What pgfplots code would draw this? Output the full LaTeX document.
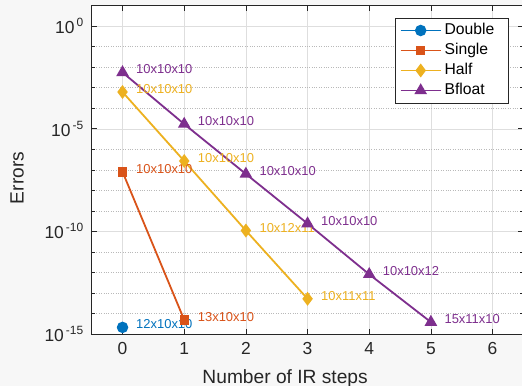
\documentclass[border=0pt]{standalone}
\usepackage{pgfplots}
\pgfplotsset{compat=1.18}
\usepackage{fontspec}
\setmainfont{Liberation Sans}
\definecolor{c1}{rgb}{0,0.447,0.741}
\definecolor{c2}{rgb}{0.85,0.325,0.098}
\definecolor{c3}{rgb}{0.929,0.694,0.125}
\definecolor{c4}{rgb}{0.494,0.184,0.556}
\definecolor{axc}{rgb}{0.15,0.15,0.15}
\definecolor{bg}{RGB}{247,247,247}
\definecolor{gmaj}{RGB}{222,222,222}
\definecolor{gmin}{RGB}{185,185,185}
\newcommand{\tenexp}[1]{10\hspace{2bp}\raisebox{7bp}{\fontsize{12}{12}\selectfont #1}}
\begin{document}
\begin{tikzpicture}
\fill[bg] (-91.7bp,-52bp) rectangle (430.3bp,334bp);
\begin{axis}[
  scale only axis, width=431.7bp, height=328.3bp,
  ymode=log, xmin=-0.5, xmax=6.5, ymin=1e-15, ymax=10,
  axis background/.style={fill=white},
  xtick={0,1,2,3,4,5,6},
  ytick={1e-15,1e-10,1e-5,1},
  yticklabels={\tenexp{-15},\tenexp{-10},\tenexp{-5},\tenexp{0}},
  minor ytick={1e-14,1e-13,1e-12,1e-11,1e-9,1e-8,1e-7,1e-6,1e-4,1e-3,1e-2,1e-1},
  grid=both,
  major grid style={gmaj, line width=0.6bp},
  minor grid style={gmin, dotted, line width=0.6bp},
  tick align=inside,
  major tick length=5bp, minor tick length=3bp,
  tick style={axc, line width=0.7bp},
  axis line style={axc, line width=0.8bp},
  /pgf/number format/assume math mode=true,
  every tick label/.append style={font=\fontsize{17.5}{17.5}\selectfont, text=axc},
  xticklabel style={yshift=-5bp},
  yticklabel style={xshift=-5bp},
  xlabel={Number of IR steps}, ylabel={Errors},
  label style={font=\fontsize{19.25}{19.25}\selectfont, text=axc},
  xlabel style={at={([yshift=-49bp]axis description cs:0.448,0)}, anchor=base},
  ylabel style={at={([xshift=-74.5bp]axis description cs:0,0.475)}, anchor=center},
  legend style={at={(1,1)}, anchor=north east, xshift=-15bp, yshift=-12bp,
    draw=axc, line width=0.6bp, fill=white,
    font=\fontsize{15.75}{15.75}\selectfont, text=black,
    row sep=3bp, inner xsep=4bp, inner ysep=4bp, column sep=1.5bp,
    nodes={inner xsep=1.5bp, inner ysep=1bp, text height=11.5bp, text depth=3.5bp, text width=58bp, align=left}},
  legend cell align=left,
  legend image code/.code={\draw[mark repeat=2,mark phase=2,#1] plot coordinates {(0bp,0bp) (20bp,0bp) (40bp,0bp)};},
  lbl/.style={nodes near coords, point meta=explicit symbolic,
    nodes near coords style={anchor=west, xshift=12.3bp, yshift=3bp, inner sep=0.5bp,
      font=\fontsize{13}{13}\selectfont, text=#1}},
]
\addplot[c1, line width=1.8bp, mark=*, mark size=4.8bp, mark options={solid, fill=c1}, lbl=c1]
  coordinates {(0,2.1e-15)[12x10x10]};
\addlegendentry{Double}
\addplot[c2, line width=1.8bp, mark=square*, mark size=3.8bp, mark options={solid, fill=c2}, lbl=c2]
  coordinates {(0,8e-8)[10x10x10] (1,4.9e-15)[13x10x10]};
\addlegendentry{Single}
\addplot[c3, line width=1.8bp, mark=diamond*, mark size=5.5bp, mark options={solid, fill=c3}, lbl=c3]
  coordinates {(0,6.2e-4)[10x10x10] (1,2.7e-7)[10x10x10] (2,1.1e-10)[10x12x11] (3,5.2e-14)[10x11x11]};
\addlegendentry{Half}
\addplot[c4, line width=1.8bp, mark=triangle*, mark size=5.5bp, mark options={solid, fill=c4}, lbl=c4]
  coordinates {(0,5.6e-3)[10x10x10] (1,1.7e-5)[10x10x10] (2,6.3e-8)[10x10x10] (3,2.4e-10)[10x10x10] (4,8.1e-13)[10x10x12] (5,3.8e-15)[15x11x10]};
\addlegendentry{Bfloat}
\end{axis}
\pgfresetboundingbox
\useasboundingbox (-91.7bp,-52bp) rectangle (430.3bp,334bp);
\end{tikzpicture}
\end{document}
